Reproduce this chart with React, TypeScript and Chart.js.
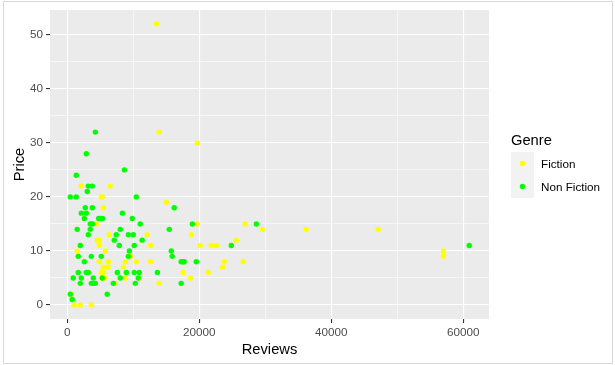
import React, { useEffect, useRef } from "react";
import { Chart, registerables } from "chart.js";
Chart.register(...registerables);

const FONT = "'Liberation Sans', Arial, Helvetica, sans-serif";

const genres = ["Fiction", "Non Fiction"];
const genreColors = ["#FFFF00", "#00FF00"];

const xGridValues = [0, 10000, 20000, 30000, 40000, 50000, 60000];
const xLabelValues = [0, 20000, 40000, 60000];
const yGridValues = [0, 5, 10, 15, 20, 25, 30, 35, 40, 45, 50];
const yLabelValues = [0, 10, 20, 30, 40, 50];

const fictionReviews = [
  13500, 13900, 19700, 2120, 6500, 5150, 5300, 5450, 15000, 4400, 19700, 6350, 12100, 18800,
  4550, 4850, 4850, 12600, 20150, 21800, 22600, 25600, 1500, 5750, 9550, 4850, 6200, 8800,
  10450, 12600, 23800, 5450, 6200, 8500, 23500, 5150, 5450, 17550, 21350, 5150, 5750, 8800,
  10900, 18650, 7250, 13900, 600, 1050, 1950, 3650, 26650, 26950, 29550, 36200, 47100, 57000, 57000,
];
const fictionPrices = [
  52, 32, 30, 22, 22, 20, 20, 18, 19, 15, 15, 13, 13, 13,
  12, 12, 11, 11, 11, 11, 11, 12, 10, 10, 9, 8, 8, 8,
  8, 8, 8, 7, 7, 7, 7, 6, 6, 6, 6, 5, 5, 5,
  5, 5, 4, 4, 2, 0, 0, 0, 8, 15, 14, 14, 14, 10, 9,
];

const nonFictionReviews = [
  4250, 2880, 1360, 8650, 450, 1360, 10450, 3180, 3800, 3030, 2730, 3800, 16200, 2120, 2880,
  8350, 2580, 4750, 5050, 5350, 9850, 3480, 3800, 11050, 18950, 1500, 3480, 8030, 15450, 3180,
  7420, 9250, 10000, 11350, 7120, 1970, 7880, 10150, 24850, 9400, 15750, 1660, 3640, 5150, 15900,
  9250, 2580, 17250, 17550, 17700, 19550, 1660, 2880, 3180, 7580, 8950, 10150, 10900, 13650, 900,
  2120, 3940, 5300, 8030, 10750, 1970, 3640, 3940, 4250, 6970, 10300, 17250, 6050, 450, 750,
  28650, 60900,
];
const nonFictionPrices = [
  32, 28, 24, 25, 20, 20, 20, 22, 22, 21, 18, 18, 18, 17, 17,
  17, 16, 16, 16, 16, 16, 15, 15, 15, 15, 14, 14, 14, 14, 13,
  13, 13, 13, 12, 12, 11, 11, 11, 11, 10, 10, 9, 9, 9, 9,
  9, 8, 8, 8, 8, 8, 6, 6, 6, 6, 6, 6, 6, 6, 5,
  5, 5, 5, 5, 5, 4, 4, 4, 4, 4, 4, 4, 2, 2, 1,
  15, 11,
];

const xTitle = "Reviews";
const yTitle = "Price";
const legendTitle = "Genre";

const toPoints = (xs: number[], ys: number[]) => xs.map((x, i) => ({ x, y: ys[i] }));

export default function App() {
  const ref = useRef<HTMLCanvasElement>(null);

  useEffect(() => {
    document.body.style.margin = "0";
    const canvas = ref.current!;

    const decor = {
      id: "decor",
      beforeDraw(chart: any) {
        const { ctx, chartArea: a } = chart;
        ctx.save();
        ctx.fillStyle = "#EBEBEB";
        ctx.fillRect(a.left, a.top, a.right - a.left, a.bottom - a.top);
        ctx.restore();
      },
      afterDraw(chart: any) {
        const { ctx, chartArea: a } = chart;
        ctx.save();
        ctx.fillStyle = "#000000";
        ctx.font = `14.7px ${FONT}`;
        ctx.textAlign = "center";
        ctx.textBaseline = "alphabetic";
        ctx.fillText(xTitle, (a.left + a.right) / 2, 354);
        ctx.save();
        ctx.translate(24, (a.top + a.bottom) / 2);
        ctx.rotate(-Math.PI / 2);
        ctx.fillText(yTitle, 0, 0);
        ctx.restore();

        // legend
        ctx.textAlign = "left";
        ctx.fillText(legendTitle, 511, 145);
        ctx.fillStyle = "#F2F2F2";
        ctx.fillRect(511, 152, 23, 46);
        ctx.font = `11.7px ${FONT}`;
        ctx.textBaseline = "middle";
        genres.forEach((g, i) => {
          const cy = 163.5 + i * 23;
          ctx.fillStyle = genreColors[i];
          ctx.beginPath();
          ctx.arc(522.5, cy, 2.7, 0, Math.PI * 2);
          ctx.fill();
          ctx.fillStyle = "#000000";
          ctx.fillText(g, 541, cy + 1);
        });
        ctx.restore();
      },
    };

    const isMajor = (list: number[], v: number) => list.includes(v);

    const chart = new Chart(canvas, {
      type: "scatter",
      data: {
        datasets: [
          {
            label: genres[1],
            data: toPoints(nonFictionReviews, nonFictionPrices),
            backgroundColor: genreColors[1],
            borderWidth: 0,
            pointRadius: 2.7,
            pointHoverRadius: 2.7,
          },
          {
            label: genres[0],
            data: toPoints(fictionReviews, fictionPrices),
            backgroundColor: genreColors[0],
            borderWidth: 0,
            pointRadius: 2.7,
            pointHoverRadius: 2.7,
          },
        ],
      },
      options: {
        animation: false,
        responsive: false,
        devicePixelRatio: 1,
        events: [],
        layout: { padding: { left: 0, top: 9, right: 126, bottom: 0 } },
        plugins: { legend: { display: false }, tooltip: { enabled: false } },
        scales: {
          x: {
            type: "linear",
            min: -2620,
            max: 63900,
            afterBuildTicks: (s: any) => {
              s.ticks = xGridValues.map((v) => ({ value: v }));
            },
            afterFit: (s: any) => {
              s.height = 46;
            },
            border: { display: false },
            grid: {
              color: "#FFFFFF",
              lineWidth: (c: any) => (c.tick && isMajor(xLabelValues, c.tick.value) ? 1.1 : 0.55),
              tickColor: (c: any) => (c.tick && isMajor(xLabelValues, c.tick.value) ? "#333333" : "rgba(0,0,0,0)"),
              tickLength: 4,
              tickWidth: 1.1,
            },
            ticks: {
              autoSkip: false,
              maxRotation: 0,
              minRotation: 0,
              padding: 3,
              color: "#4D4D4D",
              font: { family: FONT, size: 11.7 },
              callback: (v: any) => (isMajor(xLabelValues, Number(v)) ? String(v) : ""),
            },
          },
          y: {
            type: "linear",
            min: -2.6,
            max: 54.6,
            afterBuildTicks: (s: any) => {
              s.ticks = yGridValues.map((v) => ({ value: v }));
            },
            afterFit: (s: any) => {
              s.width = 50;
            },
            border: { display: false },
            grid: {
              color: "#FFFFFF",
              lineWidth: (c: any) => (c.tick && isMajor(yLabelValues, c.tick.value) ? 1.1 : 0.55),
              tickColor: (c: any) => (c.tick && isMajor(yLabelValues, c.tick.value) ? "#333333" : "rgba(0,0,0,0)"),
              tickLength: 4,
              tickWidth: 1.1,
            },
            ticks: {
              autoSkip: false,
              padding: 3,
              color: "#4D4D4D",
              font: { family: FONT, size: 11.7 },
              callback: (v: any) => (isMajor(yLabelValues, Number(v)) ? String(v) : ""),
            },
          },
        },
      },
      plugins: [decor],
    } as any);

    return () => chart.destroy();
  }, []);

  return (
    <div style={{ position: "relative", width: 615, height: 365, background: "#FFFFFF" }}>
      <canvas ref={ref} width={615} height={365} style={{ position: "absolute", left: 0, top: 0 }} />
      <div
        style={{
          position: "absolute",
          left: 3,
          top: 1,
          width: 610,
          height: 363,
          border: "1px solid #D5D9DE",
          boxSizing: "border-box",
          pointerEvents: "none",
        }}
      />
    </div>
  );
}
